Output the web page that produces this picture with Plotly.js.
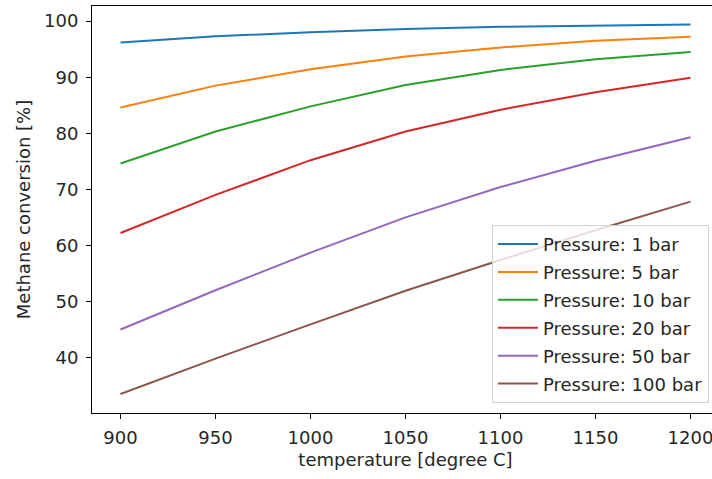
<!DOCTYPE html>
<html>
<head>
<meta charset="utf-8">
<script src="https://cdn.plot.ly/plotly-3.0.1.min.js"></script>
<style>
  html, body { margin: 0; padding: 0; overflow: hidden; background: #fff; }
  #chart { width: 720px; height: 479px; }
</style>
</head>
<body>
<div id="chart"></div>
<script>
// Equilibrium methane conversion vs. reactor temperature at several pressures
const temperature = [900, 950, 1000, 1050, 1100, 1150, 1200];
const pressureLabels = ["Pressure: 1 bar", "Pressure: 5 bar", "Pressure: 10 bar",
                        "Pressure: 20 bar", "Pressure: 50 bar", "Pressure: 100 bar"];
const conv1bar   = [96.2, 97.3, 98.0, 98.6, 99.0, 99.2, 99.4];
const conv5bar   = [84.6, 88.5, 91.4, 93.7, 95.3, 96.5, 97.2];
const conv10bar  = [74.6, 80.3, 84.8, 88.6, 91.3, 93.2, 94.5];
const conv20bar  = [62.2, 69.0, 75.2, 80.3, 84.2, 87.3, 89.9];
const conv50bar  = [45.0, 52.0, 58.7, 65.0, 70.4, 75.1, 79.3];
const conv100bar = [33.5, 39.8, 45.9, 51.9, 57.4, 62.7, 67.8];

const series = [conv1bar, conv5bar, conv10bar, conv20bar, conv50bar, conv100bar];
const colors = ["#1f77b4", "#ff7f0e", "#2ca02c", "#d62728", "#9467bd", "#8c564b"];

const traces = series.map((vals, i) => ({
  x: temperature,
  y: vals,
  name: pressureLabels[i],
  legendgroup: "g" + i,
  type: "scatter",
  mode: "lines",
  line: { color: colors[i], width: 2 }
}));

const font = { family: "DejaVu Sans, sans-serif", size: 18, color: "#262626" };

const layout = {
  width: 720,
  height: 479,
  margin: { l: 92, r: 1, t: 6, b: 66 },
  paper_bgcolor: "#fff",
  plot_bgcolor: "#fff",
  font: font,
  showlegend: true,
  legend: {
    x: 0.984, xanchor: "right",
    y: 0.025, yanchor: "bottom",
    bgcolor: "rgba(255,255,255,0.8)",
    bordercolor: "#d0d0d0",
    borderwidth: 1,
    tracegroupgap: 1.5,
    itemwidth: 40,
    font: font
  },
  xaxis: {
    range: [885, 1215],
    tickvals: [900, 950, 1000, 1050, 1100, 1150, 1200],
    showgrid: false, zeroline: false,
    showline: true, linecolor: "#000", linewidth: 1, mirror: true,
    ticks: "outside", ticklen: 5, tickcolor: "#000", tickwidth: 1,
    ticklabelstandoff: 3,
    title: { text: "temperature [degree C]", font: font, standoff: 6 }
  },
  yaxis: {
    range: [30.1, 102.7],
    tickvals: [40, 50, 60, 70, 80, 90, 100],
    showgrid: false, zeroline: false,
    showline: true, linecolor: "#000", linewidth: 1, mirror: true,
    ticks: "outside", ticklen: 5, tickcolor: "#000", tickwidth: 1,
    ticklabelstandoff: 4,
    title: { text: "Methane conversion [%]", font: font, standoff: 8 }
  }
};

Plotly.newPlot("chart", traces, layout, { displayModeBar: false, staticPlot: true });
</script>
</body>
</html>
